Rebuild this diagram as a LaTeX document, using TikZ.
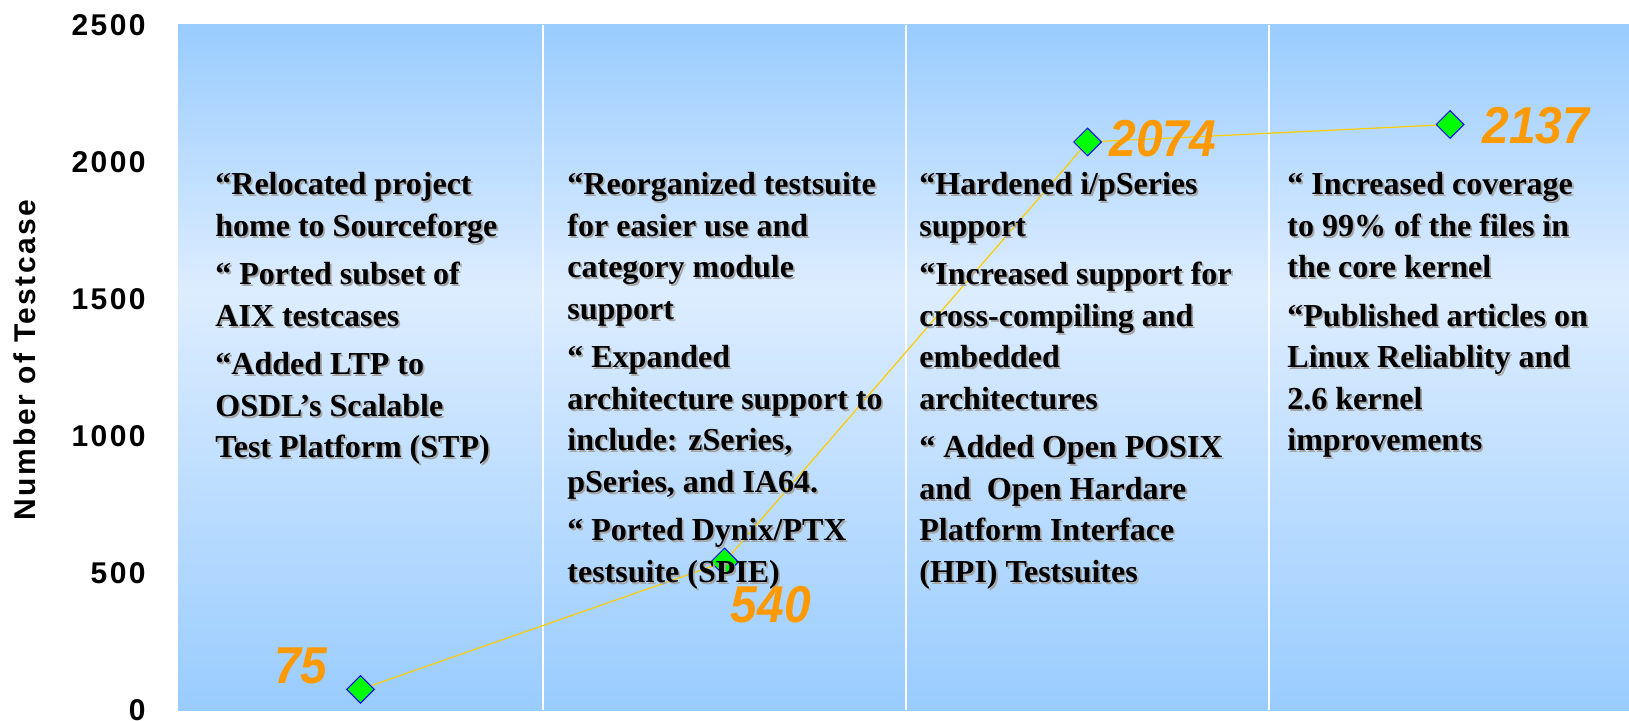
\documentclass[tikz,border=0pt]{standalone}
\usepackage{fontspec}
\usetikzlibrary{shapes.geometric}
\setmainfont{Liberation Serif}
\newfontfamily\axisfont[LetterSpace=8]{Liberation Sans}
\newfontfamily\valfont{Liberation Sans}
\definecolor{bgblue}{RGB}{153,204,255}
\definecolor{bglight}{RGB}{221,237,255}
\definecolor{valorange}{RGB}{255,153,0}
\definecolor{linegold}{RGB}{255,204,0}
\definecolor{ptgreen}{RGB}{0,255,0}
\definecolor{ptblue}{RGB}{0,0,255}
\definecolor{shadowgray}{RGB}{165,165,165}
\newcommand\shl[1]{\leavevmode\rlap{\kern0.9pt\raisebox{-0.9pt}{\textcolor{shadowgray}{#1}}}#1}
\newcommand\colfont{\bfseries\fontsize{16pt}{20.75pt}\selectfont\raggedright}
\begin{document}
\begin{tikzpicture}[x=0.5pt,y=-0.5pt,
  tick/.style={anchor=east,inner sep=0,font=\axisfont\bfseries\fontsize{15pt}{18pt}\selectfont},
  axtitle/.style={inner sep=0,rotate=90,font=\axisfont\bfseries\fontsize{15pt}{18pt}\selectfont},
  sepline/.style={draw=white,line width=0.9pt},
  dataline/.style={draw=linegold,line width=0.6pt},
  datapt/.style={shape=diamond,aspect=1,draw=ptblue,fill=ptgreen,line width=0.5pt,inner sep=0,minimum size=14pt},
  colbox/.style={anchor=base west,inner sep=0},
  val/.style={inner sep=0,text=valorange,font=\valfont\bfseries\itshape\fontsize{24pt}{28pt}\selectfont}
]
\useasboundingbox (0,0) rectangle (1629,721);
% plot area background
\shade[top color=bgblue,bottom color=bglight] (178,25) rectangle (1629,290.5);
\shade[top color=bglight,bottom color=bgblue] (178,290) rectangle (1629,710);
\draw[sepline] (543,25) -- (543,710);
\draw[sepline] (906,25) -- (906,710);
\draw[sepline] (1269,25) -- (1269,710);
% axis labels
\node[tick] (t0) at (146,710) {0};
\node[tick] (t500) at (146,573) {500};
\node[tick] (t1000) at (146,436) {1000};
\node[tick] (t1500) at (146,299) {1500};
\node[tick] (t2000) at (146,162) {2000};
\node[tick] (t2500) at (146,25) {2500};
\node[axtitle] (ytitle) at (25,360) {Number of Testcase};
% data
\coordinate (c1) at (360.5,689.4);
\coordinate (c2) at (724.5,562);
\coordinate (c3) at (1087.5,142);
\coordinate (c4) at (1450,124.5);
\draw[dataline] (c1) -- (c2) -- (c3) -- (c4);
\node[datapt] (p1) at (c1) {};
\node[datapt] (p2) at (c2) {};
\node[datapt] (p3) at (c3) {};
\node[datapt] (p4) at (c4) {};
% column texts
\node[colbox] (col1) at (215,195) {\parbox[t]{175pt}{\colfont
\shl{“Relocated project}\\
\shl{home to Sourceforge}\\[3.5pt]
\shl{“ Ported subset of}\\
\shl{AIX testcases}\\[3.5pt]
\shl{“Added LTP to}\\
\shl{OSDL’s Scalable}\\
\shl{Test Platform (STP)}}};
\node[colbox] (col2) at (567,195) {\parbox[t]{175pt}{\colfont
\shl{“Reorganized testsuite}\\
\shl{for easier use and}\\
\shl{category module}\\
\shl{support}\\[3.5pt]
\shl{“ Expanded}\\
\shl{architecture support to}\\
\shl{include: zSeries,}\\
\shl{pSeries, and IA64.}\\[3.5pt]
\shl{“ Ported Dynix/PTX}\\
\shl{testsuite (SPIE)}}};
\node[colbox] (col3) at (919,195) {\parbox[t]{175pt}{\colfont
\shl{“Hardened i/pSeries}\\
\shl{support}\\[3.5pt]
\shl{“Increased support for}\\
\shl{cross-compiling and}\\
\shl{embedded}\\
\shl{architectures}\\[3.5pt]
\shl{“ Added Open POSIX}\\
\shl{and\ \ Open Hardare}\\
\shl{Platform Interface}\\
\shl{(HPI) Testsuites}}};
\node[colbox] (col4) at (1287,195) {\parbox[t]{175pt}{\colfont
\shl{“ Increased coverage}\\
\shl{to 99\% of the files in}\\
\shl{the core kernel}\\[3.5pt]
\shl{“Published articles on}\\
\shl{Linux Reliablity and}\\
\shl{2.6 kernel}\\
\shl{improvements}}};
% value labels
\node[val] (v1) at (301,666) {\scalebox{1}[1.08]{75}};
\node[val] (v2) at (771,605) {\scalebox{1}[1.08]{540}};
\node[val] (v3) at (1163,139) {\scalebox{1}[1.08]{2074}};
\node[val] (v4) at (1536,126) {\scalebox{1}[1.08]{2137}};
\end{tikzpicture}
\end{document}
